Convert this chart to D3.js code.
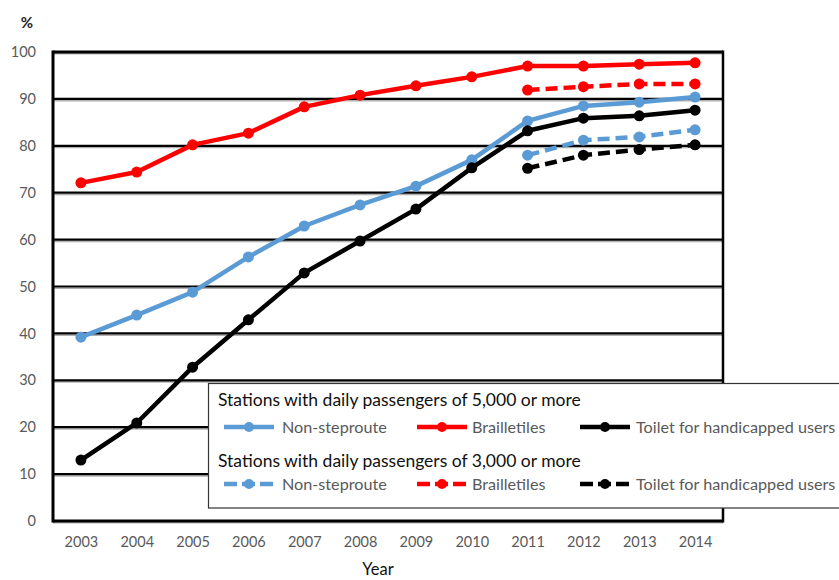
<!DOCTYPE html>
<html><head><meta charset="utf-8">
<script src="https://cdn.jsdelivr.net/npm/d3@7"></script>
<style>body{margin:0;background:#fff;} text{font-family:Lato, "Open Sans", sans-serif;}</style>
</head><body>
<svg id="c" width="839" height="580"></svg>
<script>
const years = ["2003","2004","2005","2006","2007","2008","2009","2010","2011","2012","2013","2014"];
const yTicks = [0,10,20,30,40,50,60,70,80,90,100];
const nonStep5000 = [39.2,43.9,48.8,56.3,62.9,67.4,71.4,77.0,85.3,88.5,89.3,90.4];
const braille5000 = [72.1,74.4,80.2,82.7,88.3,90.8,92.8,94.7,97.0,97.0,97.4,97.7];
const toilet5000  = [13.0,20.9,32.8,42.9,52.9,59.7,66.5,75.3,83.2,85.9,86.4,87.6];
const nonStep3000 = [null,null,null,null,null,null,null,null,78.0,81.2,81.9,83.4];
const braille3000 = [null,null,null,null,null,null,null,null,91.9,92.6,93.2,93.2];
const toilet3000  = [null,null,null,null,null,null,null,null,75.2,78.0,79.2,80.2];
const legendTitles = ["Stations with daily passengers of 5,000 or more","Stations with daily passengers of 3,000 or more"];
const itemLabels = ["Non-steproute","Brailletiles","Toilet for handicapped users"];

const colors = ["#5b9bd5","#ff0000","#000000"];
const series = [
  {v:nonStep5000,c:colors[0],dash:null},
  {v:braille5000,c:colors[1],dash:null},
  {v:toilet5000,c:colors[2],dash:null},
  {v:nonStep3000,c:colors[0],dash:"12,6"},
  {v:braille3000,c:colors[1],dash:"12,6"},
  {v:toilet3000,c:colors[2],dash:"12,6"}
];

const svg = d3.select("#c");
const L=53,R=723,T=52,B=521;
const x = d3.scalePoint().domain(years).range([L,R]).padding(0.5);
const y = d3.scaleLinear().domain([0,100]).range([B,T]);

const g = svg.append("g");
yTicks.forEach(t=>{
  g.append("line").attr("x1",L).attr("x2",R).attr("y1",y(t)+1.8).attr("y2",y(t)+1.8).attr("stroke","#b0b0b0").attr("stroke-width",1.5);
  g.append("line").attr("x1",L).attr("x2",R).attr("y1",y(t)).attr("y2",y(t)).attr("stroke","#000").attr("stroke-width",t===0||t===100?3:2.2);
});
g.append("line").attr("x1",L).attr("x2",L).attr("y1",T-1.5).attr("y2",B+1.5).attr("stroke","#000").attr("stroke-width",3);
g.append("line").attr("x1",R).attr("x2",R).attr("y1",T-1.5).attr("y2",B+1.5).attr("stroke","#000").attr("stroke-width",2.5);

const ya = d3.axisLeft(y).tickValues(yTicks).tickSize(0).tickPadding(17);
svg.append("g").attr("transform",`translate(${L},0)`).call(ya)
  .call(s=>s.select(".domain").remove())
  .selectAll("text").attr("fill","#595959").style("font-size","14.5px").style("font-family","Lato, sans-serif");
const xa = d3.axisBottom(x).tickSize(0).tickPadding(16);
svg.append("g").attr("transform",`translate(0,${B})`).call(xa)
  .call(s=>s.select(".domain").remove())
  .selectAll("text").attr("fill","#595959").style("font-size","14.5px").style("font-family","Lato, sans-serif");

svg.append("text").attr("x",27).attr("y",28).attr("text-anchor","middle").style("font-size","15px").style("font-weight","bold").attr("fill","#222").text("%");
svg.append("text").attr("x",378).attr("y",575).attr("text-anchor","middle").style("font-size","16.5px").attr("fill","#111").text("Year");

const line = d3.line().defined(d=>d!=null).x((d,i)=>x(years[i])).y(d=>y(d));
series.forEach(s=>{
  svg.append("path").datum(s.v).attr("d",line).attr("fill","none").attr("stroke",s.c)
    .attr("stroke-width",4.5).attr("stroke-dasharray",s.dash).attr("stroke-linejoin","round");
  svg.append("g").selectAll("circle").data(s.v.map((v,i)=>({v,i})).filter(d=>d.v!=null)).join("circle")
    .attr("cx",d=>x(years[d.i])).attr("cy",d=>y(d.v)).attr("r",5.5).attr("fill",s.c);
});

const lg = svg.append("g");
lg.append("rect").attr("x",208.5).attr("y",383.5).attr("width",640).attr("height",124.5).attr("fill","#fff").attr("stroke","#333").attr("stroke-width",1.2);
const rows=[{ty:406,iy:427},{ty:467,iy:484}];
const sx=[224,417,580], tx=[282,472,636];
rows.forEach((r,ri)=>{
  lg.append("text").attr("x",218).attr("y",r.ty).style("font-size","17.5px").attr("fill","#111").text(legendTitles[ri]);
  colors.forEach((c,ci)=>{
    lg.append("line").attr("x1",sx[ci]).attr("x2",sx[ci]+50).attr("y1",r.iy).attr("y2",r.iy)
      .attr("stroke",c).attr("stroke-width",4.5).attr("stroke-dasharray",ri===1?"13,5":null);
    lg.append("circle").attr("cx",sx[ci]+25).attr("cy",r.iy).attr("r",5).attr("fill",c);
    lg.append("text").attr("x",tx[ci]).attr("y",r.iy+6).style("font-size","16.2px").attr("fill","#595959").text(itemLabels[ci]);
  });
});
</script>
</body></html>
